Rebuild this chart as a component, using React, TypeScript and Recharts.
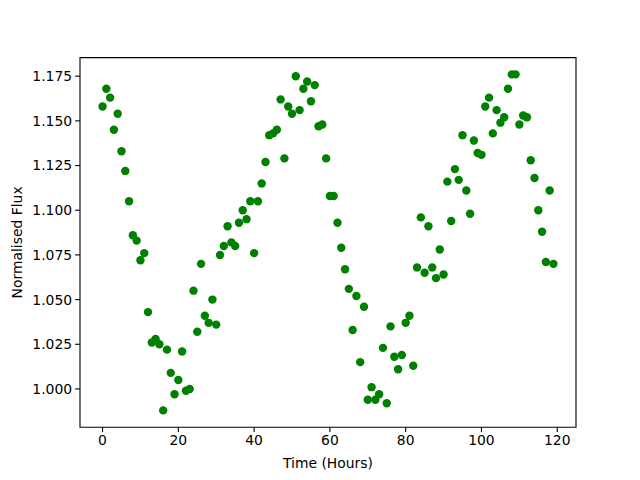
import { ScatterChart, Scatter, XAxis, YAxis, ReferenceArea } from "recharts";

// hours since start of observation
const hours = [
  0, 1, 2, 3, 4, 5, 6, 7, 8, 9, 10, 11, 12, 13, 14, 15, 16, 17, 18, 19,
  20, 21, 22, 23, 24, 25, 26, 27, 28, 29, 30, 31, 32, 33, 34, 35, 36, 37, 38, 39,
  40, 41, 42, 43, 44, 45, 46, 47, 48, 49, 50, 51, 52, 53, 54, 55, 56, 57, 58, 59,
  60, 61, 62, 63, 64, 65, 66, 67, 68, 69, 70, 71, 72, 73, 74, 75, 76, 77, 78, 79,
  80, 81, 82, 83, 84, 85, 86, 87, 88, 89, 90, 91, 92, 93, 94, 95, 96, 97, 98, 99,
  100, 101, 102, 103, 104, 105, 106, 107, 108, 109, 110, 111, 112, 113, 114, 115, 116, 117, 118, 119,
];

const flux = [
  1.158, 1.168, 1.163, 1.145, 1.154, 1.133, 1.122, 1.105, 1.086, 1.083,
  1.072, 1.076, 1.043, 1.026, 1.028, 1.025, 0.988, 1.022, 1.009, 0.997,
  1.005, 1.021, 0.999, 1.0, 1.055, 1.032, 1.07, 1.041, 1.037, 1.05,
  1.036, 1.075, 1.08, 1.091, 1.082, 1.08, 1.093, 1.1, 1.095, 1.105,
  1.076, 1.105, 1.115, 1.127, 1.142, 1.143, 1.145, 1.162, 1.129, 1.158,
  1.154, 1.175, 1.156, 1.168, 1.172, 1.161, 1.17, 1.147, 1.148, 1.129,
  1.108, 1.108, 1.093, 1.079, 1.067, 1.056, 1.033, 1.052, 1.015, 1.046,
  0.994, 1.001, 0.994, 0.997, 1.023, 0.992, 1.035, 1.018, 1.011, 1.019,
  1.037, 1.041, 1.013, 1.068, 1.096, 1.065, 1.091, 1.068, 1.062, 1.078,
  1.064, 1.116, 1.094, 1.123, 1.117, 1.142, 1.111, 1.098, 1.139, 1.132,
  1.131, 1.158, 1.163, 1.143, 1.156, 1.149, 1.152, 1.168, 1.176, 1.176,
  1.148, 1.153, 1.152, 1.128, 1.118, 1.1, 1.088, 1.071, 1.111, 1.07,
];

const xTicks = [0, 20, 40, 60, 80, 100, 120];
const yTicks = [1.0, 1.025, 1.05, 1.075, 1.1, 1.125, 1.15, 1.175];
const xLabel = "Time (Hours)";
const yLabel = "Normalised Flux";

const data = hours.map((h, i) => ({ hour: h, flux: flux[i] }));

// matplotlib-style 5% margins
const pad = (lo: number, hi: number): [number, number] => {
  const m = (hi - lo) * 0.05;
  return [lo - m, hi + m];
};
const xDomain = pad(Math.min(...hours), Math.max(...hours));
const yDomain = pad(Math.min(...flux), Math.max(...flux));

const font = "'DejaVu Sans', sans-serif";
const tickStyle = { fill: "#000", fontSize: 13.9, fontFamily: font };

const Dot = (props: any) => (
  <circle cx={props.cx} cy={props.cy} r={4.2} fill="#008000" />
);

export default function App() {
  return (
    <div
      style={{
        position: "absolute",
        left: 0,
        top: 0,
        width: 640,
        height: 480,
        background: "#fff",
      }}
    >
      <ScatterChart
        width={640}
        height={480}
        margin={{ top: 57.6, right: 64, bottom: 0, left: 0 }}
      >
        <XAxis
          type="number"
          dataKey="hour"
          domain={xDomain}
          ticks={xTicks}
          allowDataOverflow
          axisLine={false}
          tickLine={{ stroke: "#000", strokeWidth: 1.1 }}
          tickSize={4.9}
          tickMargin={3}
          tick={tickStyle}
          height={52.8}
          label={{
            content: () => (
              <text
                x={328}
                y={463}
                textAnchor="middle"
                dominantBaseline="central"
                fontSize={13.9}
                fontFamily={font}
                fill="#000"
              >
                {xLabel}
              </text>
            ),
          }}
        />
        <YAxis
          type="number"
          dataKey="flux"
          domain={yDomain}
          ticks={yTicks}
          allowDataOverflow
          axisLine={false}
          tickLine={{ stroke: "#000", strokeWidth: 1.1 }}
          tickSize={4.9}
          tickMargin={3}
          tick={tickStyle}
          tickFormatter={(v: number) => v.toFixed(3)}
          width={80}
          label={{
            content: () => (
              <text
                x={17}
                y={242.4}
                transform="rotate(-90 17 242.4)"
                textAnchor="middle"
                dominantBaseline="central"
                fontSize={13.9}
                fontFamily={font}
                fill="#000"
              >
                {yLabel}
              </text>
            ),
          }}
        />
        <Scatter data={data} shape={Dot} isAnimationActive={false} />
        <ReferenceArea
          x1={xDomain[0]}
          x2={xDomain[1]}
          y1={yDomain[0]}
          y2={yDomain[1]}
          fill="none"
          fillOpacity={0}
          stroke="#000"
          strokeWidth={1.1}
          ifOverflow="visible"
        />
      </ScatterChart>
    </div>
  );
}
